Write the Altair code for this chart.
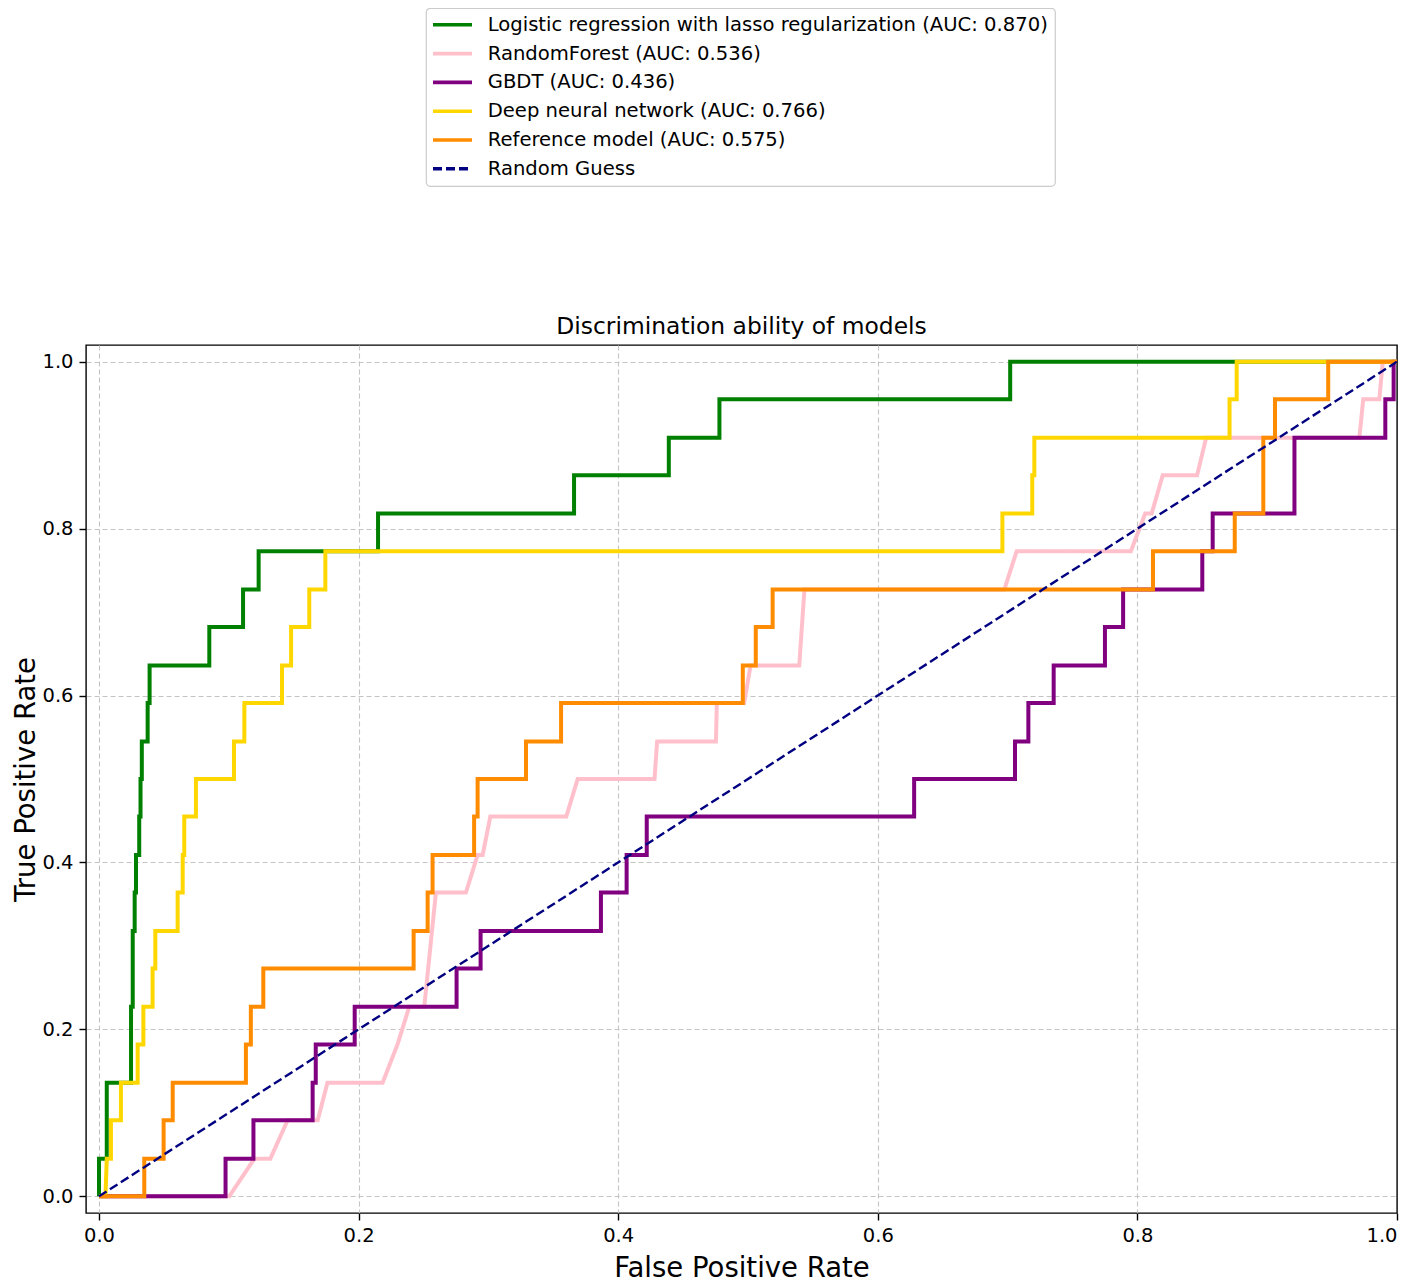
import altair as alt
import pandas as pd

# ---- data ----
models = [
    "Logistic regression with lasso regularization (AUC: 0.870)",
    "RandomForest (AUC: 0.536)",
    "GBDT (AUC: 0.436)",
    "Deep neural network (AUC: 0.766)",
    "Reference model (AUC: 0.575)",
    "Random Guess",
]
colors = ["green", "pink", "purple", "gold", "darkorange", "navy"]
dashes = [[1, 0], [1, 0], [1, 0], [1, 0], [1, 0], [9, 4]]
widths = [4.0, 4.0, 4.0, 4.0, 4.0, 2.4]

lr_fpr = [0, 0, 0.006, 0.006, 0.0247, 0.0247, 0.026, 0.026, 0.0275, 0.0275, 0.0285, 0.0285,
          0.031, 0.031, 0.032, 0.032, 0.033, 0.033, 0.0375, 0.0375, 0.039, 0.039, 0.085, 0.085,
          0.111, 0.111, 0.123, 0.123, 0.215, 0.215, 0.366, 0.366, 0.439, 0.439, 0.478, 0.478,
          0.702, 0.702, 1.0]
lr_tpr = [0, 0.045, 0.045, 0.136, 0.136, 0.227, 0.227, 0.318, 0.318, 0.364, 0.364, 0.409,
          0.409, 0.455, 0.455, 0.5, 0.5, 0.545, 0.545, 0.591, 0.591, 0.636, 0.636, 0.682,
          0.682, 0.727, 0.727, 0.773, 0.773, 0.818, 0.818, 0.864, 0.864, 0.909, 0.909, 0.955,
          0.955, 1.0, 1.0]

rf_fpr = [0, 0.1004, 0.1197, 0.132, 0.1453, 0.1685, 0.176, 0.2185, 0.230, 0.239, 0.2506,
          0.2596, 0.2827, 0.2917, 0.2956, 0.3015, 0.36, 0.3688, 0.428, 0.430, 0.4753, 0.476,
          0.497, 0.502, 0.5395, 0.5415, 0.5435, 0.6975, 0.707, 0.795, 0.806, 0.811, 0.8195,
          0.846, 0.853, 0.971, 0.974, 0.9864, 0.989, 1.0]
rf_tpr = [0, 0, 0.045, 0.045, 0.091, 0.091, 0.136, 0.136, 0.182, 0.227, 0.227,
          0.364, 0.364, 0.409, 0.409, 0.455, 0.455, 0.5, 0.5, 0.545, 0.545, 0.591,
          0.591, 0.636, 0.636, 0.682, 0.727, 0.727, 0.773, 0.773, 0.818, 0.818, 0.864,
          0.864, 0.909, 0.909, 0.955, 0.955, 1.0, 1.0]

gb_fpr = [0, 0.0975, 0.0975, 0.119, 0.119, 0.1646, 0.1646, 0.167, 0.167, 0.197, 0.197,
          0.2755, 0.2755, 0.294, 0.294, 0.3867, 0.3867, 0.4065, 0.4065, 0.422, 0.422, 0.628,
          0.628, 0.7057, 0.7057, 0.716, 0.716, 0.7355, 0.7355, 0.775, 0.775, 0.789, 0.789,
          0.850, 0.850, 0.858, 0.858, 0.921, 0.921, 0.991, 0.991, 0.9974, 0.9974, 1.0]
gb_tpr = [0, 0, 0.045, 0.045, 0.091, 0.091, 0.136, 0.136, 0.182, 0.182, 0.227,
          0.227, 0.273, 0.273, 0.318, 0.318, 0.364, 0.364, 0.409, 0.409, 0.455, 0.455,
          0.5, 0.5, 0.545, 0.545, 0.591, 0.591, 0.636, 0.636, 0.682, 0.682, 0.727,
          0.727, 0.773, 0.773, 0.818, 0.818, 0.909, 0.909, 0.955, 0.955, 1.0, 1.0]

dnn_fpr = [0, 0.005, 0.006, 0.0092, 0.0092, 0.0169, 0.0169, 0.0298, 0.0298, 0.0342, 0.0342,
           0.0413, 0.0413, 0.0434, 0.0434, 0.0606, 0.0606, 0.0645, 0.0645, 0.0657, 0.0657,
           0.0747, 0.0747, 0.104, 0.104, 0.112, 0.112, 0.141, 0.141, 0.148, 0.148, 0.162,
           0.162, 0.1744, 0.1744, 0.696, 0.696, 0.719, 0.719, 0.7206, 0.7206, 0.871, 0.871,
           0.8765, 0.8765, 1.0]
dnn_tpr = [0, 0, 0.045, 0.045, 0.091, 0.091, 0.136, 0.136, 0.182, 0.182, 0.227,
           0.227, 0.273, 0.273, 0.318, 0.318, 0.364, 0.364, 0.409, 0.409, 0.455,
           0.455, 0.5, 0.5, 0.545, 0.545, 0.591, 0.591, 0.636, 0.636, 0.682, 0.682,
           0.727, 0.727, 0.773, 0.773, 0.818, 0.818, 0.864, 0.864, 0.909, 0.909, 0.955,
           0.955, 1.0, 1.0]

ref_fpr = [0, 0.0349, 0.0349, 0.0498, 0.0498, 0.0568, 0.0568, 0.1132, 0.1132, 0.117, 0.117,
           0.1266, 0.1266, 0.2424, 0.2424, 0.2532, 0.2532, 0.257, 0.257, 0.289, 0.289, 0.2917,
           0.2917, 0.329, 0.329, 0.356, 0.356, 0.496, 0.496, 0.506, 0.506, 0.519, 0.519,
           0.812, 0.812, 0.875, 0.875, 0.897, 0.897, 0.906, 0.906, 0.947, 0.947, 1.0]
ref_tpr = [0, 0, 0.045, 0.045, 0.091, 0.091, 0.136, 0.136, 0.182, 0.182, 0.227,
           0.227, 0.273, 0.273, 0.318, 0.318, 0.364, 0.364, 0.409, 0.409, 0.455, 0.455,
           0.5, 0.5, 0.545, 0.545, 0.591, 0.591, 0.636, 0.636, 0.682, 0.682, 0.727,
           0.727, 0.773, 0.773, 0.818, 0.818, 0.909, 0.909, 0.955, 0.955, 1.0, 1.0]

guess_fpr = [0.0, 1.0]
guess_tpr = [0.0, 1.0]

tick_values = [0.0, 0.2, 0.4, 0.6, 0.8, 1.0]

# ---- build table ----
series = [(lr_fpr, lr_tpr), (rf_fpr, rf_tpr), (gb_fpr, gb_tpr),
          (dnn_fpr, dnn_tpr), (ref_fpr, ref_tpr), (guess_fpr, guess_tpr)]
rows = []
for m, (fx, ty) in zip(models, series):
    for i, (a, b) in enumerate(zip(fx, ty)):
        rows.append({"model": m, "idx": i, "fpr": a, "tpr": b})
df = pd.DataFrame(rows)

FONT = "DejaVu Sans"

color_enc = alt.Color("model:N", scale=alt.Scale(domain=models, range=colors),
                      legend=alt.Legend(title=None, orient="none", legendX=340, legendY=-337))
dash_enc = alt.StrokeDash("model:N", scale=alt.Scale(domain=models, range=dashes),
                          legend=alt.Legend(title=None, orient="none", legendX=340, legendY=-337))

hide_edge_grid = {"condition": {"test": "datum.value >= 0.999", "value": 0}, "value": 1}

layers = []
for m, w in zip(models, widths):
    layers.append(
        alt.Chart()
        .transform_filter(alt.datum.model == m)
        .mark_line(strokeWidth=w, strokeJoin="miter")
        .encode(
            x=alt.X("fpr:Q",
                    scale=alt.Scale(domain=[-0.01, 1.0], nice=False, zero=False),
                    axis=alt.Axis(values=tick_values, format=".1f", title="False Positive Rate",
                                  titleY=63, titleBaseline="alphabetic",
                                  gridOpacity=hide_edge_grid)),
            y=alt.Y("tpr:Q",
                    scale=alt.Scale(domain=[-0.02, 1.02], nice=False, zero=False),
                    axis=alt.Axis(values=tick_values, format=".1f", title="True Positive Rate",
                                  titleX=-52, titleBaseline="alphabetic", titleAngle=270)),
            color=color_enc,
            strokeDash=dash_enc,
            order=alt.Order("idx:Q"),
        )
    )

chart = (
    alt.layer(*layers, data=df)
    .properties(
        width=1311, height=868,
        title=alt.TitleParams("Discrimination ability of models", frame="group", dy=339),
        autosize=alt.AutoSizeParams(type="none"),
        padding={"left": 78, "top": 337, "right": 13, "bottom": 70},
    )
    .configure(font=FONT)
    .configure_view(stroke="black", strokeWidth=1.4)
    .configure_axis(
        labelFont=FONT, titleFont=FONT,
        labelFontSize=19.5, titleFontSize=27.5, titleFontWeight="normal",
        labelColor="black", titleColor="black",
        tickColor="black", tickWidth=1.4, tickSize=7,
        labelPadding=6, titlePadding=9,
        grid=True, gridColor="#c4c4c4", gridDash=[5, 3], gridWidth=1.1,
        domain=False,
    )
    .configure_legend(
        labelFont=FONT, labelFontSize=19.6, labelColor="black", labelLimit=2000,
        symbolType="M-4,0L4,0", symbolSize=95, symbolStrokeWidth=3.6,
        symbolOffset=9.7, labelOffset=25.4, rowPadding=7.8,
        padding=7, strokeColor="#cccccc", strokeWidth=1.2, cornerRadius=4,
        fillColor="white",
    )
    .configure_title(font=FONT, fontSize=23.4, fontWeight="normal", color="black",
                     offset=7, anchor="middle")
)

chart.save("out.html", embed_options={"renderer": "svg", "actions": False})
